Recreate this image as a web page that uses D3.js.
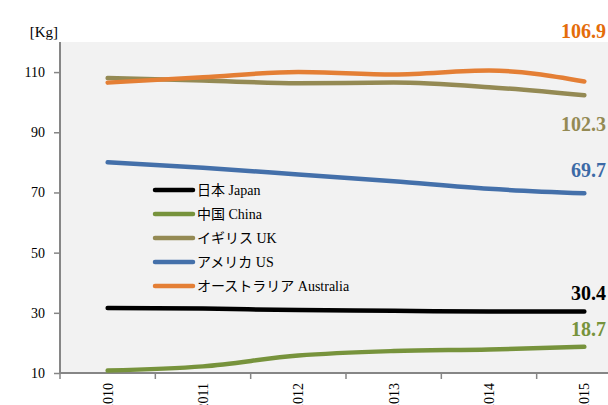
<!DOCTYPE html>
<html><head><meta charset="utf-8">
<script src="https://cdn.jsdelivr.net/npm/d3@7"></script>
<style>body{margin:0;background:#fff;overflow:hidden}
text{font-family:"Liberation Serif","Times New Roman","DejaVu Serif",serif}
text.jp{font-family:"Liberation Serif","Times New Roman","Noto Sans CJK JP",serif}</style>
</head><body>
<svg id="c" width="608" height="405"></svg>
<script>
const years = ["2010","2011","2012","2013","2014","2015"];
const japan = [31.6, 31.4, 30.9, 30.7, 30.4, 30.4];
const china = [10.8, 12.2, 15.8, 17.3, 17.8, 18.7];
const uk = [108.0, 107.2, 106.3, 106.5, 105.0, 102.3];
const us = [80.0, 78.2, 76.0, 73.7, 71.2, 69.7];
const australia = [106.5, 108.3, 110.0, 109.2, 110.5, 106.9];
const seriesNames = ["日本 Japan","中国 China","イギリス UK","アメリカ US","オーストラリア Australia"];
const seriesColors = ["#000000","#77933c","#948a54","#4470aa","#e47f35"];
const labelColors = ["#000000","#77933c","#948a54","#3c6aa6","#e46c0a"];
const yTicks = [10,30,50,70,90,110];

const series = [japan, china, uk, us, australia];
const svg = d3.select("#c");
const L = 60, R = 632, T = 42, B = 373;
const x = d3.scaleBand().domain(years).range([L, R]);
const y = d3.scaleLinear().domain([10, 120]).range([B, T]);

svg.append("rect").attr("x", L).attr("y", T).attr("width", R - L).attr("height", B - T).attr("fill", "#f2f2f2");

// y axis
const ya = svg.append("g").attr("transform", `translate(${L},0)`)
  .call(d3.axisLeft(y).tickValues(yTicks).tickSize(6).tickPadding(9));
ya.attr("font-family", null);
ya.select(".domain").attr("stroke", "#868686").attr("stroke-width", 2).attr("d", `M0,${T}V${B}`);
ya.selectAll(".tick line").attr("stroke", "#868686").attr("stroke-width", 1.5);
ya.selectAll(".tick text").attr("font-size", 14).attr("fill", "#000");

// x axis
const xa = svg.append("g").attr("transform", `translate(0,${B})`)
  .call(d3.axisBottom(x).tickSize(0).tickPadding(0));
xa.attr("font-family", null);
xa.select(".domain").attr("stroke", "#868686").attr("stroke-width", 2).attr("d", `M${L},0H${R}`);
xa.selectAll(".tick text").attr("font-size", 14).attr("fill", "#000")
  .attr("text-anchor", "end").attr("transform", "translate(0,10) rotate(-90)").attr("dy", "0.35em").attr("y", 0).attr("x", 0);
const bounds = years.map(d => x(d)).concat([R]);
svg.append("g").selectAll("line").data(bounds).join("line")
  .attr("x1", d => d).attr("x2", d => d).attr("y1", B).attr("y2", B + 6)
  .attr("stroke", "#868686").attr("stroke-width", 1.5);

svg.append("text").attr("x", 58).attr("y", 37).attr("text-anchor", "end")
  .attr("font-size", 15).text("[Kg]");

const line = d3.line().x((d, i) => x(years[i]) + x.bandwidth() / 2).y(d => y(d)).curve(d3.curveMonotoneX);
const order = [1, 0, 2, 4, 3];
order.forEach(k => {
  svg.append("path").attr("d", line(series[k])).attr("fill", "none")
    .attr("stroke", seriesColors[k]).attr("stroke-width", 4.5)
    .attr("stroke-linecap", "round").attr("stroke-linejoin", "round");
});

// end labels
const labelPos = [300, 336, 131, 177, 38];
series.forEach((s, k) => {
  svg.append("text").attr("x", 606).attr("y", labelPos[k]).attr("text-anchor", "end")
    .attr("font-weight", "bold").attr("font-size", 20)
    .attr("fill", labelColors[k]).text(s[s.length - 1].toFixed(1));
});

// legend
const lg = svg.append("g");
seriesNames.forEach((n, k) => {
  const yy = 190 + k * 24;
  lg.append("line").attr("x1", 155).attr("x2", 193).attr("y1", yy).attr("y2", yy)
    .attr("stroke", seriesColors[k]).attr("stroke-width", 4.5).attr("stroke-linecap", "round");
  lg.append("text").attr("class", "jp").attr("x", 197).attr("y", yy + 5)
    .attr("font-size", 14).attr("fill", "#000").text(n);
});
</script>
</body></html>
